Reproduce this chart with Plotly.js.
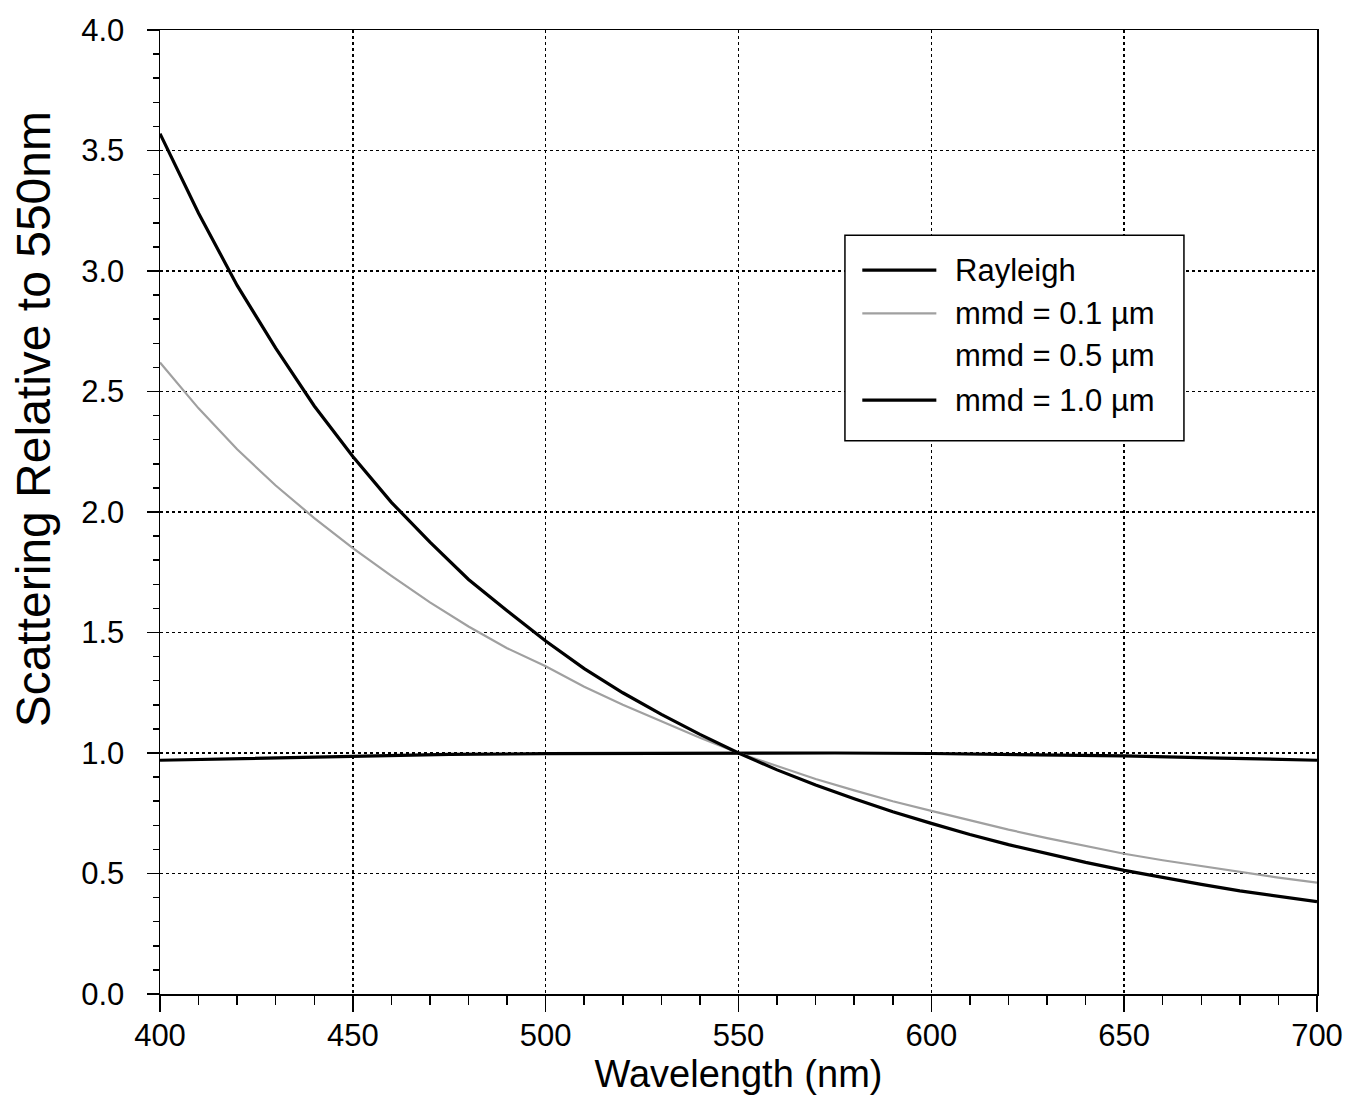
<!DOCTYPE html>
<html>
<head>
<meta charset="utf-8">
<script src="https://cdn.plot.ly/plotly-3.0.1.min.js"></script>
<style>html,body{margin:0;padding:0;background:#fff;}#chart{width:1347px;height:1105px;}</style>
</head>
<body>
<div id="chart"></div>
<script>
const seriesNames = ["Rayleigh", "mmd = 0.1 \u00b5m", "mmd = 0.5 \u00b5m", "mmd = 1.0 \u00b5m"];
const wavelength = [400,410,420,430,440,450,460,470,480,490,500,510,520,530,540,550,560,570,580,590,600,610,620,630,640,650,660,670,680,690,700];
const rayleigh = [3.57,3.24,2.94,2.68,2.44,2.23,2.04,1.875,1.72,1.59,1.465,1.35,1.25,1.16,1.077,1.0,0.93,0.867,0.81,0.756,0.708,0.662,0.62,0.582,0.546,0.513,0.483,0.455,0.428,0.404,0.383];
const mmd01 = [2.62,2.43,2.26,2.11,1.975,1.85,1.735,1.625,1.525,1.435,1.36,1.275,1.2,1.13,1.063,1.0,0.945,0.892,0.845,0.8,0.76,0.72,0.682,0.647,0.613,0.582,0.555,0.53,0.505,0.483,0.462];
const mmd05x = [];
const mmd05 = [];
const mmd10x = [400,425,450,475,500,525,550,575,600,625,650,675,700];
const mmd10 = [0.97,0.978,0.988,0.994,0.997,0.999,1.0,1.0,0.998,0.994,0.988,0.979,0.97];
const xTicks = [400,450,500,550,600,650,700];
const yTicks = [0.0,0.5,1.0,1.5,2.0,2.5,3.0,3.5,4.0];
const xTitle = 'Wavelength (nm)';
const yTitle = 'Scattering Relative to 550nm';

const colors = ["#000000", "#a0a0a0", "#ffffff", "#000000"];
const widths = [3.2, 2.2, 2, 3.2];

const traces = [
  {x: wavelength, y: rayleigh, name: seriesNames[0]},
  {x: wavelength, y: mmd01, name: seriesNames[1]},
  {x: mmd05x, y: mmd05, name: seriesNames[2]},
  {x: mmd10x, y: mmd10, name: seriesNames[3]}
].map((t, i) => Object.assign(t, {type: 'scatter', mode: 'lines', line: {color: colors[i], width: widths[i]}, showlegend: false}));

const ordered = [traces[3], traces[2], traces[1], traces[0]];

const FONT = 'Liberation Sans, Arial, sans-serif';
const lgX0 = 0.592, lgX1 = 0.885, lgY0 = 0.574, lgY1 = 0.787;
const shapes = [{type: 'rect', xref: 'paper', yref: 'paper', x0: lgX0, x1: lgX1, y0: lgY0, y1: lgY1, line: {color: '#000', width: 1.5}, fillcolor: '#fff', layer: 'above'}];
const annotations = [];
const rowY = [0.751, 0.706, 0.662, 0.616];
seriesNames.forEach((n, i) => {
  if (colors[i] !== '#ffffff') {
    shapes.push({type: 'line', xref: 'paper', yref: 'paper', x0: 0.607, x1: 0.671, y0: rowY[i], y1: rowY[i], line: {color: colors[i], width: widths[i]}, layer: 'above'});
  }
  annotations.push({xref: 'paper', yref: 'paper', x: 0.685, y: rowY[i], xanchor: 'left', yanchor: 'middle', text: n.replace(' \u00b5m', '&nbsp;\u00b5m'), showarrow: false, font: {family: FONT, size: 31, color: '#000'}});
});
// y-axis title (placed off-centre as in the original)
annotations.push({xref: 'paper', yref: 'paper', x: -0.109, y: 0.596, xanchor: 'center', yanchor: 'middle', textangle: -90, text: yTitle, showarrow: false, font: {family: FONT, size: 48, color: '#000'}});

const axisFont = {family: FONT, size: 31, color: '#000'};

const layout = {
  width: 1347, height: 1105,
  margin: {l: 160, r: 30, t: 30, b: 111},
  paper_bgcolor: '#fff', plot_bgcolor: '#fff',
  showlegend: false,
  xaxis: {
    range: [400, 700], tickvals: xTicks, ticktext: xTicks.map(String),
    ticks: 'outside', ticklen: 16, tickwidth: 1.5, tickcolor: '#000',
    minor: {dtick: 10, ticks: 'outside', ticklen: 9, tickwidth: 1.5, tickcolor: '#000', showgrid: false},
    showline: true, linecolor: '#000', linewidth: 1.5, mirror: true,
    showgrid: true, gridcolor: '#000', griddash: 'dot', gridwidth: 1.5,
    zeroline: false, tickfont: axisFont, ticklabelstandoff: -3,
    title: {text: xTitle, font: {family: FONT, size: 38, color: '#000'}, standoff: 0}
  },
  yaxis: {
    range: [0, 4], tickvals: yTicks, ticktext: yTicks.map(v => v.toFixed(1)),
    ticks: 'outside', ticklen: 12, tickwidth: 1.5, tickcolor: '#000',
    minor: {dtick: 0.1, ticks: 'outside', ticklen: 6, tickwidth: 1.5, tickcolor: '#000', showgrid: false},
    showline: true, linecolor: '#000', linewidth: 1.5, mirror: true,
    showgrid: true, gridcolor: '#000', griddash: 'dot', gridwidth: 1.5,
    zeroline: false, tickfont: axisFont, ticklabelstandoff: 16
  },
  shapes: shapes,
  annotations: annotations
};

Plotly.newPlot('chart', ordered, layout, {displayModeBar: false, staticPlot: true});
</script>
</body>
</html>
